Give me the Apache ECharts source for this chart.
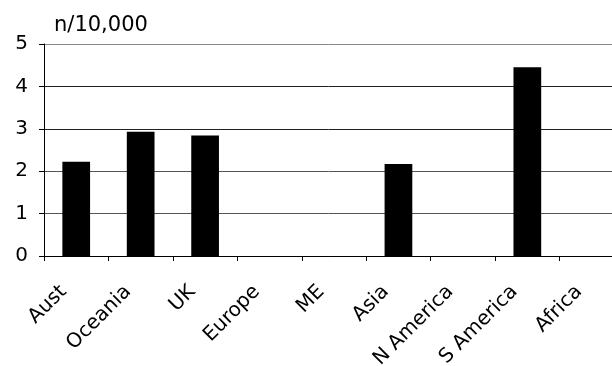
<!DOCTYPE html>
<html>
<head>
<meta charset="utf-8">
<script src="https://cdn.jsdelivr.net/npm/echarts@6/dist/echarts.min.js"></script>
<style>
  html, body { margin: 0; padding: 0; background: #fff; }
  #chart { width: 612px; height: 366px; }
</style>
</head>
<body>
<div id="chart"></div>
<script>
// Rate per 10,000 by region
const regions = ['Aust', 'Oceania', 'UK', 'Europe', 'ME', 'Asia', 'N America', 'S America', 'Africa'];
const rates = [2.22, 2.93, 2.84, 0, 0, 2.17, 0, 4.45, 0];
const yTicks = [0, 1, 2, 3, 4, 5];
const unitLabel = 'n/10,000';

const FONT = 'Verdana, "DejaVu Sans", sans-serif';
const chart = echarts.init(document.getElementById('chart'), null, { renderer: 'canvas' });

chart.setOption({
  animation: false,
  backgroundColor: '#ffffff',
  title: {
    text: unitLabel,
    left: 54,
    top: 15,
    padding: 0,
    textStyle: { fontFamily: FONT, fontSize: 21, fontWeight: 'normal', color: '#000' }
  },
  // plot area runs past the right edge, so the last category is cut off
  grid: { left: 44, top: 44, width: 580, height: 212, containLabel: false, outerBoundsMode: 'none' },
  xAxis: {
    type: 'category',
    data: regions,
    boundaryGap: true,
    axisLine: { show: true, lineStyle: { color: '#000', width: 1 } },
    axisTick: { show: true, length: 5, alignWithLabel: false, lineStyle: { color: '#000' } },
    axisLabel: {
      interval: 0,
      rotate: 45,
      margin: 20,
      padding: [0, 18, 0, 0],
      fontFamily: FONT,
      fontSize: 20,
      color: '#000'
    }
  },
  yAxis: {
    type: 'value',
    min: yTicks[0],
    max: yTicks[yTicks.length - 1],
    interval: 1,
    axisLine: { show: true, lineStyle: { color: '#000', width: 1 } },
    axisTick: { show: true, inside: false, length: 5, lineStyle: { color: '#000' } },
    axisLabel: {
      margin: 16,
      fontFamily: FONT,
      fontSize: 20,
      color: '#000',
      formatter: v => yTicks.includes(v) ? String(v) : ''
    },
    splitLine: {
      show: true,
      lineStyle: { color: ['#000', '#555', '#555', '#222', '#222', '#888'], width: 1 }
    }
  },
  series: [{
    type: 'bar',
    data: rates,
    barWidth: '43%',
    itemStyle: { color: '#000' }
  }]
});
</script>
</body>
</html>
